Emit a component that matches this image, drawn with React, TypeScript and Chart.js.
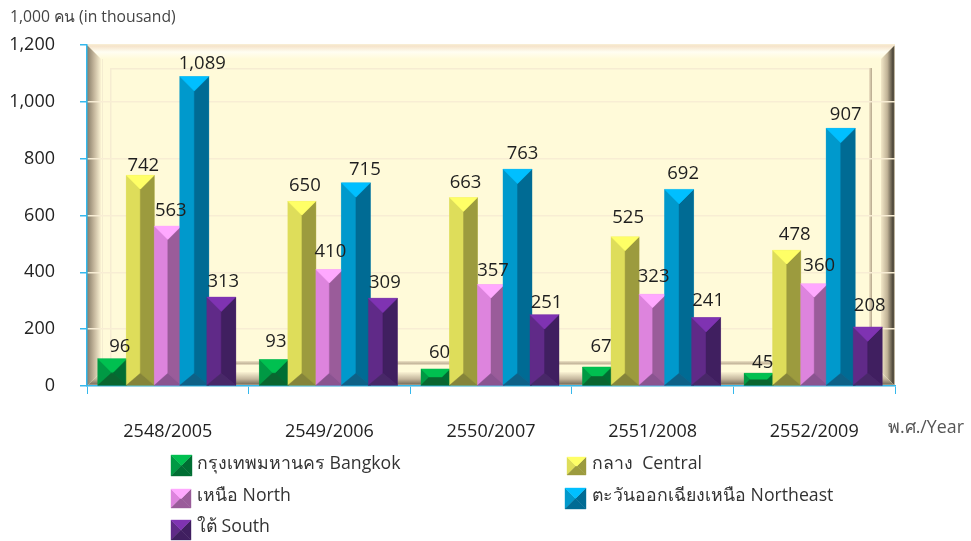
import React, { useEffect, useRef } from "react";
import { Chart, registerables } from "chart.js";

Chart.register(...registerables);

const categories = ["2548/2005", "2549/2006", "2550/2007", "2551/2008", "2552/2009"];
const seriesNames = ["กรุงเทพมหานคร Bangkok", "กลาง  Central", "เหนือ North", "ตะวันออกเฉียงเหนือ Northeast", "ใต้ South"];
const bangkok = [96, 93, 60, 67, 45];
const central = [742, 650, 663, 525, 478];
const north = [563, 410, 357, 323, 360];
const northeast = [1089, 715, 763, 692, 907];
const south = [313, 309, 251, 241, 208];
const yTitle = "1,000 คน (in thousand)";
const xTitle = "พ.ศ./Year";

const FONT = '"Open Sans", "Noto Sans", sans-serif';
const AXIS = "#35b8ec";
const faces = [
  { top: "#00c050", left: "#009944", right: "#006e33", bottom: "#0a6630" },
  { top: "#ffff66", left: "#dedd5a", right: "#9c9b3e", bottom: "#85843a" },
  { top: "#ffa8ff", left: "#dd84dd", right: "#9a5c9a", bottom: "#8a5490" },
  { top: "#00bfff", left: "#0099cc", right: "#006b94", bottom: "#0e6187" },
  { top: "#7f33b2", left: "#602a88", right: "#401f60", bottom: "#482868" },
];
// [group span, bar width] per series, and the hand placement of each value label
const groupSpan = [138.75, 137.5, 135, 132.5, 133.75];
const barWidth = [29, 28, 27, 29, 29];
const labelDx = [
  [7.5, 2, 4, 4, 4],
  [3, 3, 2, 3, 8],
  [3, 1, 2, 1, 5],
  [8, 9, 5, 4, 5],
  [2, 2, 2, 2, 2],
];
const labelLift = [
  [12, 18, 16, 20, 10],
  [9, 16, 15, 19, 15],
  [15, 18, 14, 17, 18],
  [13, 13, 15, 16, 14],
  [15, 15, 12, 17, 21],
];
const values = [bangkok, central, north, northeast, south];

function paintFrame(ctx: CanvasRenderingContext2D, a: any) {
  const { left: l, right: r, top: t, bottom: b } = a;
  ctx.save();
  ctx.fillStyle = "#fffad9";
  ctx.fillRect(l, t, r - l, b - t);

  const poly = (pts: number[][], fill: any) => {
    ctx.beginPath();
    pts.forEach((p, i) => (i ? ctx.lineTo(p[0], p[1]) : ctx.moveTo(p[0], p[1])));
    ctx.closePath();
    ctx.fillStyle = fill;
    ctx.fill();
  };
  const d = 14;
  const gt = ctx.createLinearGradient(0, t, 0, t + d);
  gt.addColorStop(0, "#f4dfc4");
  gt.addColorStop(0.5, "#fffef2");
  gt.addColorStop(1, "#fffad9");
  poly([[l, t], [r, t], [r - d, t + d], [l + d, t + d]], gt);
  const gl = ctx.createLinearGradient(l, 0, l + d, 0);
  gl.addColorStop(0, "#857b66");
  gl.addColorStop(0.5, "#c4b69c");
  gl.addColorStop(1, "#fbf3d4");
  poly([[l, t], [l + d, t + d], [l + d, b - d], [l, b]], gl);
  const gr = ctx.createLinearGradient(r - d, 0, r, 0);
  gr.addColorStop(0, "#f3e8c8");
  gr.addColorStop(0.45, "#c0b296");
  gr.addColorStop(0.88, "#453f33");
  gr.addColorStop(1, "#efe4ca");
  poly([[r, t], [r, b], [r - d, b - d], [r - d, t + d]], gr);
  const gb = ctx.createLinearGradient(0, b - d, 0, b);
  gb.addColorStop(0, "#fbf3d4");
  gb.addColorStop(0.5, "#c4b69c");
  gb.addColorStop(0.85, "#7d7460");
  gb.addColorStop(1, "#e6dcc4");
  poly([[l, b], [r, b], [r - d, b - d], [l + d, b - d]], gb);

  const il = l + 23, it = t + 23, ir = r - 23, ib = b - 22;
  ctx.fillStyle = "#f6ecd2";
  ctx.fillRect(il, it, ir - il, 1.5);
  ctx.fillRect(il, it, 1.5, ib - it);
  ctx.fillStyle = "#f4ecd0";
  ctx.fillRect(l + d + 1, t + d, 1, b - t - 2 * d);
  const gir = ctx.createLinearGradient(ir - 3, 0, ir, 0);
  gir.addColorStop(0, "#efe3c5");
  gir.addColorStop(1, "#b5a78c");
  ctx.fillStyle = gir;
  ctx.fillRect(ir - 3, it, 3, ib - it);
  const gib = ctx.createLinearGradient(0, ib - 3, 0, ib + 1);
  gib.addColorStop(0, "#efe3c5");
  gib.addColorStop(0.6, "#c5b79c");
  gib.addColorStop(1, "#efe3c5");
  ctx.fillStyle = gib;
  ctx.fillRect(il, ib - 3, ir - il, 4);
  ctx.restore();
}

function paintPrism(ctx: CanvasRenderingContext2D, x0: number, y0: number, x1: number, y1: number, f: any) {
  const k = Math.min((x1 - x0) / 2, (y1 - y0) / 2);
  const kb = Math.min(12, (y1 - y0) / 2);
  const poly = (pts: number[][], fill: string) => {
    ctx.beginPath();
    pts.forEach((p, i) => (i ? ctx.lineTo(p[0], p[1]) : ctx.moveTo(p[0], p[1])));
    ctx.closePath();
    ctx.fillStyle = fill;
    ctx.strokeStyle = fill;
    ctx.lineWidth = 0.4;
    ctx.fill();
    ctx.stroke();
  };
  const a = [x0, y0], b = [x1, y0], c = [x1, y1], e = [x0, y1];
  const ia = [x0 + k, y0 + k], ib = [x1 - k, y0 + k], ic = [x1 - k, y1 - kb], ie = [x0 + k, y1 - kb];
  poly([a, ia, ie, e], f.left);
  poly([b, c, ic, ib], f.right);
  poly([e, c, ic, ie], f.bottom);
  poly([a, b, ib, ia], f.top);
}

const legendPos = [
  { x: 171, y: 455, s: 21, tx: 197 },
  { x: 567, y: 457, s: 18, tx: 592 },
  { x: 171, y: 489, s: 19, tx: 197 },
  { x: 565, y: 488, s: 21, tx: 592 },
  { x: 171, y: 520, s: 20, tx: 197 },
];
const legendRowY = [464, 496, 527];

const chartArt = {
  id: "chartArt",
  beforeDraw(chart: any) {
    paintFrame(chart.ctx, chart.chartArea);
  },
  afterDatasetsDraw(chart: any) {
    const ctx = chart.ctx;
    chart.data.datasets.forEach((_: any, i: number) => {
      chart.getDatasetMeta(i).data.forEach((bar: any) => {
        paintPrism(ctx, bar.x - bar.width / 2, bar.y, bar.x + bar.width / 2, bar.base, faces[i]);
      });
    });
    ctx.save();
    ctx.textAlign = "center";
    ctx.textBaseline = "middle";
    ctx.fillStyle = "#1f1f1f";
    ctx.font = `18.5px ${FONT}`;
    chart.data.datasets.forEach((ds: any, i: number) => {
      chart.getDatasetMeta(i).data.forEach((bar: any, j: number) => {
        ctx.fillText(ds.data[j].toLocaleString("en-US"), bar.x + labelDx[i][j], bar.y - labelLift[i][j]);
      });
    });
    ctx.restore();
  },
  afterDraw(chart: any) {
    const ctx = chart.ctx;
    ctx.save();
    ctx.textBaseline = "middle";
    ctx.textAlign = "left";
    ctx.fillStyle = "#555555";
    ctx.font = `17.8px ${FONT}`;
    ctx.fillText(xTitle, 888, 428);
    ctx.font = `17.7px ${FONT}`;
    chart.data.datasets.forEach((ds: any, i: number) => {
      const p = legendPos[i];
      paintPrism(ctx, p.x, p.y, p.x + p.s + (p.s < 20 ? 1 : 0), p.y + p.s, { ...faces[i], bottom: faces[i].right });
      ctx.fillStyle = "#333333";
      ctx.fillText(ds.label, p.tx, legendRowY[Math.floor(i / 2)]);
    });
    ctx.restore();
  },
};

export default function App() {
  const ref = useRef<HTMLCanvasElement | null>(null);
  useEffect(() => {
    document.body.style.margin = "0";
    const chart = new Chart(ref.current as HTMLCanvasElement, {
      type: "bar",
      data: {
        labels: categories,
        datasets: values.map((v, i) => ({
          label: seriesNames[i],
          data: v,
          backgroundColor: faces[i].left,
          borderWidth: 0,
          categoryPercentage: groupSpan[i] / 161.6,
          barPercentage: (5 * barWidth[i]) / groupSpan[i],
        })),
      },
      plugins: [chartArt],
      options: {
        responsive: false,
        animation: false,
        layout: { padding: { left: 10, right: 76, top: 0, bottom: 0 } },
        plugins: {
          legend: { display: false },
          tooltip: { enabled: false },
          title: {
            display: true,
            text: yTitle,
            align: "start",
            color: "#444444",
            font: { family: FONT, size: 15.7, weight: "normal", lineHeight: 1.2 },
            padding: { top: 8, bottom: 18.2 },
          },
        },
        scales: {
          x: {
            afterFit: (s: any) => { s.height = 155; },
            grid: { drawOnChartArea: false, tickLength: 8, tickColor: AXIS, lineWidth: 1 },
            border: { color: AXIS, width: 1.5 },
            ticks: { color: "#222222", font: { family: FONT, size: 18 }, padding: 27, maxRotation: 0 },
          },
          y: {
            min: 0,
            max: 1200,
            afterFit: (s: any) => { s.width = 77; },
            grid: { color: "#f8edd4", lineWidth: 1.5, tickLength: 7, tickColor: AXIS },
            border: { color: AXIS, width: 1.5 },
            ticks: {
              stepSize: 200,
              color: "#222222",
              font: { family: FONT, size: 18 },
              padding: 25,
              callback: (v: any) => Number(v).toLocaleString("en-US"),
            },
          },
        },
      },
    } as any);
    return () => chart.destroy();
  }, []);
  return <canvas ref={ref} width={971} height={541} style={{ display: "block" }} />;
}
